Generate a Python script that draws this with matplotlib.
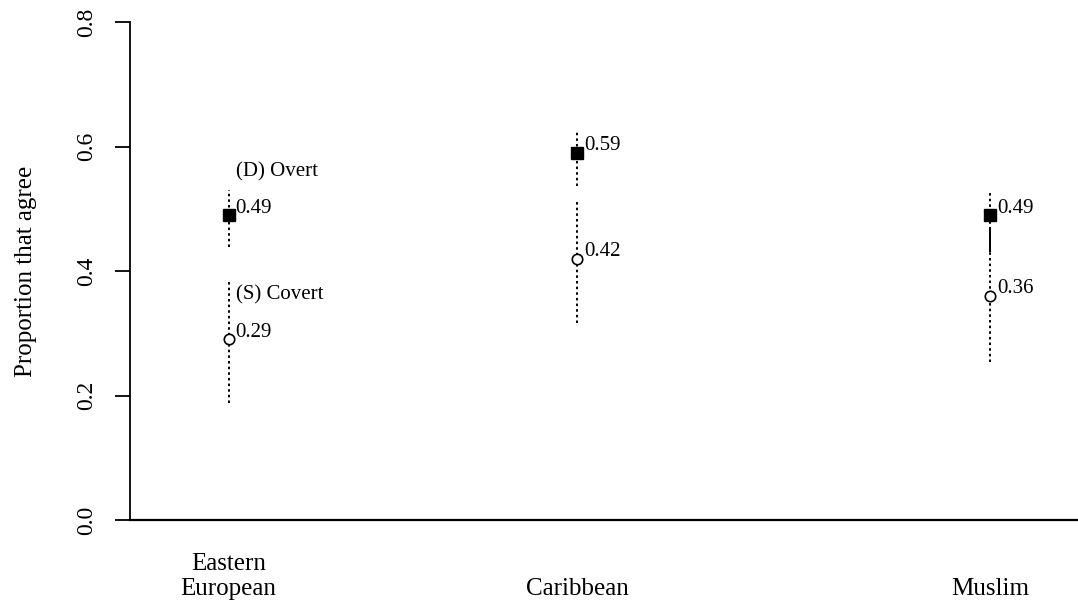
import matplotlib
matplotlib.use("Agg")
import matplotlib.pyplot as plt

# groups and estimates
groups = ["Eastern\nEuropean", "Caribbean", "Muslim"]
overt = [0.49, 0.59, 0.49]
overt_lo = [0.439, 0.536, 0.431]
overt_hi = [0.530, 0.627, 0.525]
covert = [0.29, 0.42, 0.36]
covert_lo = [0.188, 0.317, 0.254]
covert_hi = [0.387, 0.514, 0.471]

# horizontal placement of the groups (axis runs 0..1)
xpos = [0.104, 0.4715, 0.907]

plt.rcParams['font.family'] = ['Liberation Serif', 'DejaVu Serif']

fig = plt.figure(figsize=(10.78, 6.08), dpi=100)
ax = fig.add_axes([130 / 1078, 88 / 608, 948 / 1078, 498 / 608])

dots = (0, (1.3, 1.6))

# confidence intervals
ax.vlines(xpos, overt_lo, overt_hi, colors='black', linestyles=[dots], linewidth=1.4)
ax.vlines(xpos, covert_lo, covert_hi, colors='black', linestyles=[dots], linewidth=1.4)
# where the two intervals overlap the dots run together into a solid line
for x, olo, ohi, clo, chi in zip(xpos, overt_lo, overt_hi, covert_lo, covert_hi):
    lo, hi = max(olo, clo), min(ohi, chi)
    if hi > lo:
        ax.vlines(x, lo, hi, colors='black', linewidth=1.4)

ax.plot(xpos, overt, 's', color='black', markersize=8, zorder=3)
ax.plot(xpos, covert, 'o', markerfacecolor='white', markeredgecolor='black',
        markersize=7.5, markeredgewidth=1.2, zorder=3)

for x, v in zip(xpos, overt):
    ax.annotate(f"{v:.2f}", (x, v), xytext=(5, 5), textcoords='offset points',
                ha='left', va='center', fontsize=15)
for x, v in zip(xpos, covert):
    ax.annotate(f"{v:.2f}", (x, v), xytext=(5, 5), textcoords='offset points',
                ha='left', va='center', fontsize=15)

ax.annotate("(D) Overt", (xpos[0], overt[0]), xytext=(5, 31), textcoords='offset points',
            ha='left', va='center', fontsize=15)
ax.annotate("(S) Covert", (xpos[0], covert[0]), xytext=(5, 32), textcoords='offset points',
            ha='left', va='center', fontsize=15)

ax.set_xlim(0, 1)
ax.set_ylim(0, 0.8)
ax.set_yticks([0.0, 0.2, 0.4, 0.6, 0.8])
ax.set_yticklabels(["0.0", "0.2", "0.4", "0.6", "0.8"], rotation=90, va='center', fontsize=17)
ax.tick_params(axis='y', length=11, width=1.3, pad=13)
ax.set_xticks([])
ax.set_ylabel("Proportion that agree", fontsize=18, labelpad=28)

for s in ['top', 'right']:
    ax.spines[s].set_visible(False)
ax.spines['left'].set_linewidth(1.3)
ax.spines['bottom'].set_linewidth(1.6)

# group names sit below the axis, bottom-aligned
for x, g in zip(xpos, groups):
    fig.text(130 / 1078 + x * 948 / 1078, 8 / 608, g, ha='center', va='bottom',
             fontsize=18, linespacing=1.2)

fig.savefig("out.png", dpi=100)
